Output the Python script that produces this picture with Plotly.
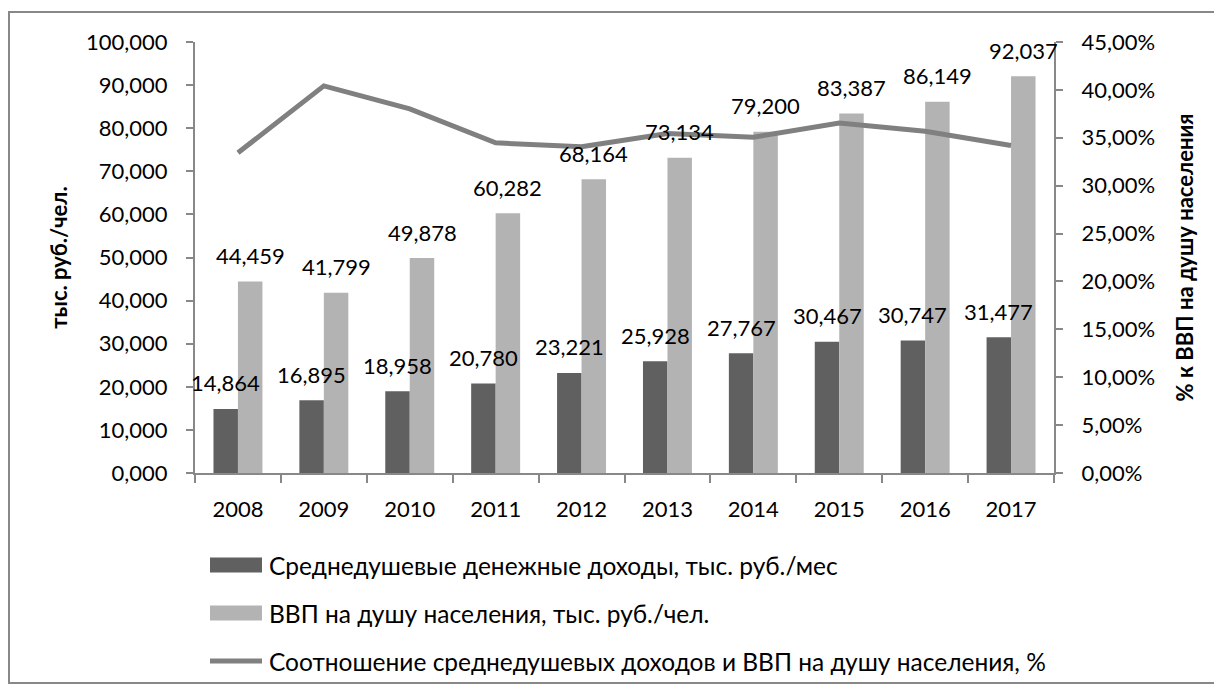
import plotly.graph_objects as go

years = ["2008", "2009", "2010", "2011", "2012", "2013", "2014", "2015", "2016", "2017"]
income = [14.864, 16.895, 18.958, 20.780, 23.221, 25.928, 27.767, 30.467, 30.747, 31.477]
gdp = [44.459, 41.799, 49.878, 60.282, 68.164, 73.134, 79.200, 83.387, 86.149, 92.037]
ratio = [33.43, 40.42, 38.01, 34.47, 34.07, 35.45, 35.06, 36.54, 35.69, 34.20]

names = [
    "Среднедушевые денежные доходы, тыс. руб./мес",
    "ВВП на душу населения, тыс. руб./чел.",
    "Соотношение среднедушевых доходов и ВВП на душу населения, %",
]

FONT = "Lato, 'Open Sans', sans-serif"
C_DARK, C_LIGHT, C_LINE, C_AXIS = "#606060", "#b3b3b3", "#808080", "#888888"

# plot area geometry (figure pixels)
L, T, PW, PH = 187, 34, 859, 431


def lab(v):
    a, b = f"{v:.3f}".split(".")
    return f"{a},{b}"


def px(xr):  # reference-pixel x -> paper
    return (xr - 8 - L) / PW


def py(yr):  # reference-pixel y -> paper
    return (T + PH - (yr - 8)) / PH


fig = go.Figure()
fig.add_trace(go.Bar(
    x=years, y=[v * 1000 for v in income], name=names[0],
    marker=dict(color=C_DARK, line=dict(width=0)), hoverinfo="skip",
))
fig.add_trace(go.Bar(
    x=years, y=[v * 1000 for v in gdp], name=names[1],
    marker=dict(color=C_LIGHT, line=dict(width=0)), hoverinfo="skip",
))
fig.add_trace(go.Scatter(
    x=years, y=ratio, name=names[2], mode="lines",
    line=dict(color=C_LINE, width=5), yaxis="y2",
))

annotations = []
for vals, shift in ((income, -12.25), (gdp, 12.25)):
    for i, v in enumerate(vals):
        annotations.append(dict(
            x=i, y=v * 1000, xref="x", yref="y", text=lab(v), showarrow=False,
            xshift=shift, yshift=26, xanchor="center", yanchor="middle",
            font=dict(size=22, family=FONT, color="#000"),
        ))

shapes = [dict(
    type="rect", xref="paper", yref="paper",
    x0=px(9), x1=px(1219), y0=py(683), y1=py(12),
    line=dict(color=C_AXIS, width=2), fillcolor="rgba(0,0,0,0)", layer="below",
)]

# manual legend (wide keys like the original)
legend_rows = [(names[0], "bar", C_DARK, 565), (names[1], "bar", C_LIGHT, 613), (names[2], "line", C_LINE, 661)]
for text, kind, col, yc in legend_rows:
    if kind == "bar":
        shapes.append(dict(type="rect", xref="paper", yref="paper",
                           x0=px(210), x1=px(262), y0=py(yc + 7.5), y1=py(yc - 7.5),
                           fillcolor=col, line=dict(width=0)))
    else:
        shapes.append(dict(type="line", xref="paper", yref="paper",
                           x0=px(210), x1=px(262), y0=py(yc), y1=py(yc),
                           line=dict(color=col, width=5)))
    annotations.append(dict(
        x=px(267), y=py(yc), xref="paper", yref="paper", text=text, showarrow=False,
        xanchor="left", yanchor="middle", font=dict(size=24.5, family=FONT, color="#000"),
    ))

fig.update_layout(
    width=1214, height=683,
    margin=dict(l=L, r=1214 - L - PW, t=T, b=683 - T - PH, autoexpand=False),
    paper_bgcolor="white", plot_bgcolor="white",
    font=dict(family=FONT, size=22, color="#000"),
    barmode="group", bargap=0.43, bargroupgap=0,
    showlegend=False,
    xaxis=dict(
        type="category", range=[-0.5, len(years) - 0.5],
        showline=True, linecolor=C_AXIS, linewidth=2,
        ticks="outside", ticklen=8, tickcolor=C_AXIS, tickwidth=2,
        tickson="boundaries", showgrid=False, ticklabelstandoff=16,
        automargin=False,
    ),
    yaxis=dict(
        range=[0, 100000],
        showline=True, linecolor=C_AXIS, linewidth=2,
        ticks="outside", ticklen=7, tickcolor=C_AXIS, tickwidth=2,
        showgrid=False, zeroline=False, ticklabelstandoff=14,
        tickvals=[i * 10000 for i in range(11)],
        ticktext=[f"{i*10},000" if i > 0 else "0,000" for i in range(11)],
        title=dict(text="<b>тыс. руб./чел.</b>", font=dict(size=22), standoff=12),
        automargin=False,
    ),
    yaxis2=dict(
        overlaying="y", side="right", range=[0, 45],
        tickvals=[i * 5 for i in range(10)],
        ticktext=[f"{i*5},00%" for i in range(10)],
        showline=True, linecolor=C_AXIS, linewidth=2,
        ticks="outside", ticklen=7, tickcolor=C_AXIS, tickwidth=2,
        showgrid=False, zeroline=False, ticklabelstandoff=14,
        title=dict(text="<b>% к ВВП на душу населения</b>", font=dict(size=22), standoff=24),
        automargin=False,
    ),
    shapes=shapes,
    annotations=annotations,
)

fig.write_html("out.html")
